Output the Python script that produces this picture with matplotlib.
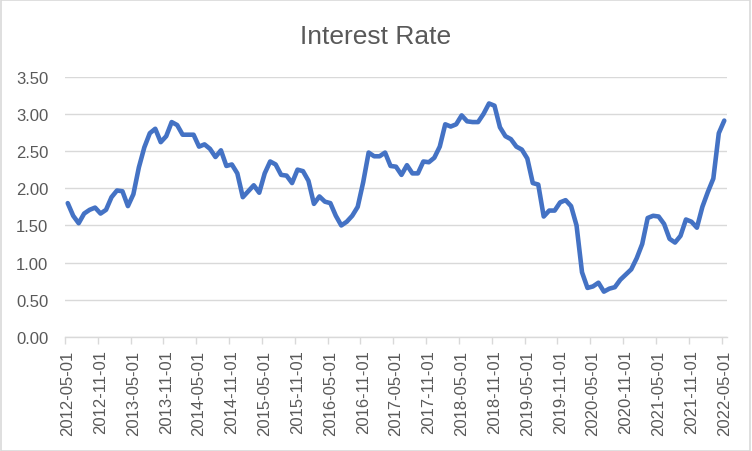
import numpy as np
import pandas as pd
import matplotlib
matplotlib.use("Agg")
import matplotlib.pyplot as plt
from matplotlib.patches import Rectangle

# monthly interest rate, 2012-05 .. 2022-05
start = "2012-05-01"
rates = [
    1.80, 1.63, 1.53, 1.66, 1.71, 1.74, 1.66, 1.71, 1.88, 1.97,
    1.96, 1.76, 1.92, 2.28, 2.55, 2.74, 2.80, 2.62, 2.70, 2.89,
    2.85, 2.72, 2.72, 2.72, 2.56, 2.59, 2.53, 2.42, 2.51, 2.30,
    2.32, 2.20, 1.88, 1.96, 2.04, 1.94, 2.20, 2.36, 2.32, 2.18,
    2.17, 2.07, 2.25, 2.23, 2.10, 1.79, 1.89, 1.82, 1.80, 1.63,
    1.50, 1.55, 1.63, 1.75, 2.08, 2.48, 2.43, 2.43, 2.48, 2.30,
    2.29, 2.18, 2.31, 2.20, 2.20, 2.36, 2.35, 2.41, 2.56, 2.86,
    2.83, 2.86, 2.98, 2.90, 2.89, 2.89, 3.00, 3.14, 3.11, 2.82,
    2.70, 2.66, 2.56, 2.52, 2.40, 2.07, 2.05, 1.62, 1.70, 1.70,
    1.81, 1.84, 1.76, 1.50, 0.87, 0.66, 0.68, 0.73, 0.61, 0.65,
    0.67, 0.77, 0.84, 0.91, 1.06, 1.25, 1.60, 1.63, 1.62, 1.52,
    1.32, 1.27, 1.36, 1.58, 1.55, 1.47, 1.75, 1.95, 2.13, 2.74,
    2.91,
]
dates = pd.date_range(start, periods=len(rates), freq="MS")
labels = [d.strftime("%Y-%m-%d") for d in dates]
y_ticks = [0.0, 0.5, 1.0, 1.5, 2.0, 2.5, 3.0, 3.5]

grey = "#595959"
grid = "#D9D9D9"

plt.rcParams["font.family"] = ["Liberation Sans", "DejaVu Sans"]

fig = plt.figure(figsize=(7.52, 4.52), dpi=100)
ax = fig.add_axes([65 / 752, 1 - 338 / 452, 662 / 752, 260.3 / 452])

x = np.arange(len(rates))
ax.plot(x, rates, color="#4472C4", lw=3.3, solid_joinstyle="round",
        solid_capstyle="round", zorder=3)

ax.set_xlim(-0.5, len(rates) - 0.5)
ax.set_ylim(0, 3.5)

ax.set_yticks(y_ticks)
ax.set_yticklabels(["{:.2f}".format(v) for v in y_ticks])
ax.yaxis.grid(True, color=grid, lw=1.0)
ax.set_axisbelow(True)

idx = x[::6]
ax.set_xticks(idx)
ax.set_xticklabels([labels[i] for i in idx], rotation=90)
ax.set_xticks(idx - 0.5, minor=True)
ax.tick_params(axis="x", which="major", length=0, pad=9, labelsize=12, colors=grey)
ax.tick_params(axis="x", which="minor", length=5, width=1, color=grid)
ax.tick_params(axis="y", length=0, pad=12, labelsize=12, colors=grey)

for s in ["top", "right", "left"]:
    ax.spines[s].set_visible(False)
ax.spines["bottom"].set_color(grid)
ax.spines["bottom"].set_linewidth(1.0)

fig.text(376 / 752, 1 - 37 / 452, "Interest Rate", ha="center", va="center",
         fontsize=19, color=grey)

fig.patches.append(Rectangle((0.001, 0.001), 0.997, 0.997, transform=fig.transFigure,
                             fill=False, edgecolor=grid, lw=1.2))

fig.savefig("out.png", dpi=100)
